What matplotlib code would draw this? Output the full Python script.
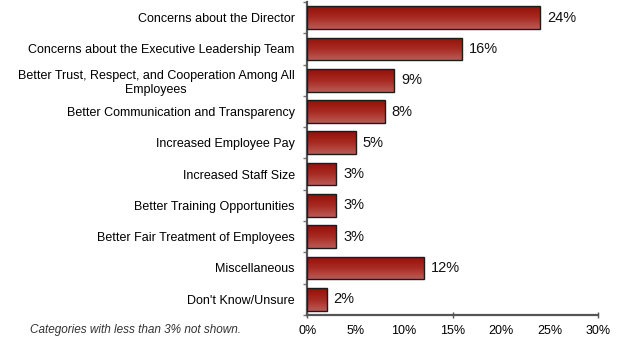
import matplotlib
matplotlib.use("Agg")
import matplotlib.pyplot as plt
import numpy as np
from matplotlib.colors import LinearSegmentedColormap

categories = [
    "Concerns about the Director",
    "Concerns about the Executive Leadership Team",
    "Better Trust, Respect, and Cooperation Among All\nEmployees",
    "Better Communication and Transparency",
    "Increased Employee Pay",
    "Increased Staff Size",
    "Better Training Opportunities",
    "Better Fair Treatment of Employees",
    "Miscellaneous",
    "Don't Know/Unsure",
]
values = [24, 16, 9, 8, 5, 3, 3, 3, 12, 2]
value_labels = ["24%", "16%", "9%", "8%", "5%", "3%", "3%", "3%", "12%", "2%"]
x_ticks = [0, 5, 10, 15, 20, 25, 30]
x_tick_labels = ["0%", "5%", "10%", "15%", "20%", "25%", "30%"]
footnote = "Categories with less than 3% not shown."

plt.rcParams["font.family"] = ["Liberation Sans", "DejaVu Sans"]

fig = plt.figure(figsize=(6.18, 3.40), dpi=100)
ax = fig.add_axes([0.497, 0.074, 0.471, 0.92])

bar_h = 0.73
ypos = np.arange(len(categories))
grad_cmap = LinearSegmentedColormap.from_list("redgrad", ["#921008", "#a82a22", "#bb5a55"])
grad = np.linspace(0, 1, 64).reshape(-1, 1)

bars = ax.barh(ypos, values, height=bar_h, color="none",
               edgecolor="#1c1c1c", linewidth=1.0, zorder=4)
for bar, y, v in zip(bars, ypos, values):
    im = ax.imshow(grad, extent=[0, v, y + bar_h / 2, y - bar_h / 2],
                   aspect="auto", cmap=grad_cmap, zorder=3, interpolation="bicubic")
    im.set_clip_path(bar)

for y, v, lab in zip(ypos, values, value_labels):
    ax.annotate(lab, xy=(v, y), xytext=(5, 0), textcoords="offset points",
                ha="left", va="center", fontsize=10.5, color="#111111")

ax.set_xlim(0, 30)
ax.set_ylim(len(categories) - 0.5, -0.5)

ax.set_yticks(ypos)
ax.set_yticklabels(categories, fontsize=9, multialignment="center")
ax.tick_params(axis="y", length=0, pad=9)
ax.set_yticks(np.arange(-0.5, len(categories), 1), minor=True)
ax.tick_params(axis="y", which="minor", length=3, width=1, color="#777777")

ax.set_xticks(x_ticks)
ax.set_xticklabels(x_tick_labels, fontsize=9)
ax.tick_params(axis="x", length=0, pad=7)
ax.xaxis.remove_overlapping_locs = False
ax.set_xticks([0, 15, 30], minor=True)
ax.tick_params(axis="x", which="minor", length=4, width=1, direction="inout", color="#555555")

for side in ("top", "right"):
    ax.spines[side].set_visible(False)
for side in ("left", "bottom"):
    ax.spines[side].set_color("#555555")
    ax.spines[side].set_linewidth(1.6)

fig.text(30 / 618, 1 - 330 / 340, footnote, fontsize=8.5, style="italic",
         color="#333333", ha="left", va="center")

fig.savefig("out.png", dpi=100)
